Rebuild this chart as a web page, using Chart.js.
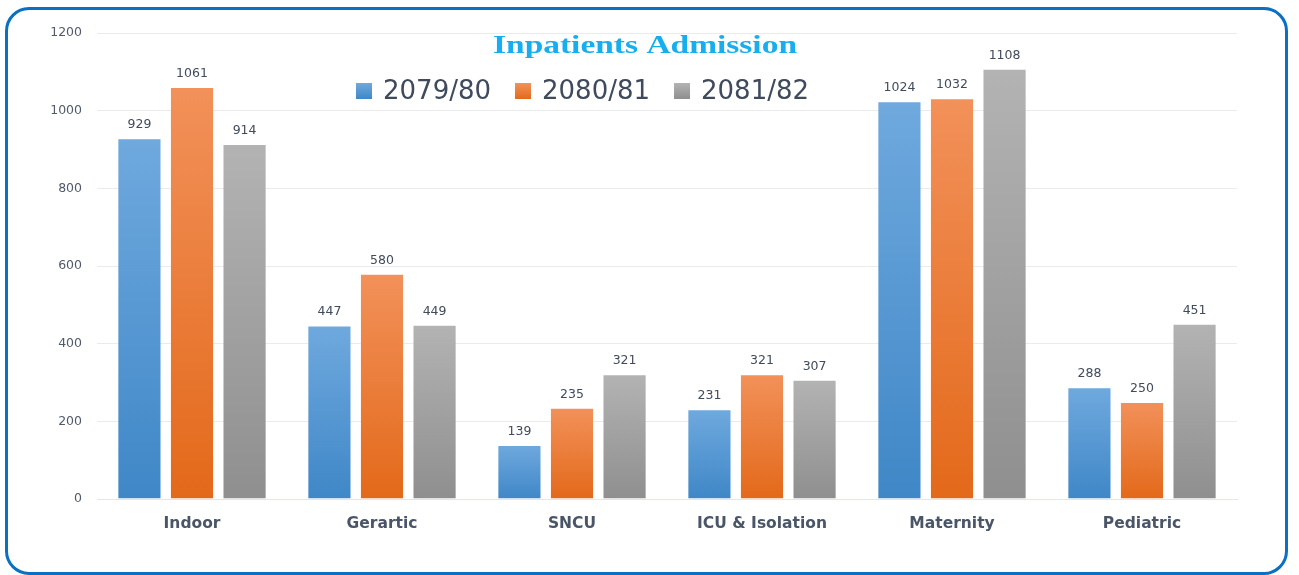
<!DOCTYPE html>
<html>
<head>
<meta charset="utf-8">
<script src="https://cdn.jsdelivr.net/npm/chart.js@4"></script>
<style>
  html, body { margin: 0; padding: 0; background: #ffffff; }
  #wrap { position: relative; width: 1299px; height: 575px; overflow: hidden; }
  #frame { position: absolute; left: 5px; top: 7px; width: 1277px; height: 562px;
           border: 3px solid #0a70c4; border-radius: 24px; }
  #c { position: absolute; left: 0; top: 0; }
</style>
</head>
<body>
<div id="wrap">
  <div id="frame"></div>
  <canvas id="c" width="1299" height="575"></canvas>
</div>
<script>
const categories = ['Indoor', 'Gerartic', 'SNCU', 'ICU & Isolation', 'Maternity', 'Pediatric'];
const seriesLabels = ['2079/80', '2080/81', '2081/82'];
const s2079 = [929, 447, 139, 231, 1024, 288];
const s2080 = [1061, 580, 235, 321, 1032, 250];
const s2081 = [914, 449, 321, 307, 1108, 451];
const yTicks = [0, 200, 400, 600, 800, 1000, 1200];
const titleText = 'Inpatients Admission';

const palette = [
  { top: '#6fa9de', bottom: '#3f87c7', legend: '#4a8fd0' },
  { top: '#f2915a', bottom: '#e3691a', legend: '#ee7a30' },
  { top: '#b3b3b3', bottom: '#8f8f8f', legend: '#a0a0a0' }
];

function barGradient(i) {
  return function (ctx) {
    const chart = ctx.chart;
    const ys = chart.scales && chart.scales.y;
    if (!ys || ctx.type !== 'data') return palette[i].legend;
    const yTop = ys.getPixelForValue(ctx.raw);
    const yBot = ys.getPixelForValue(0);
    if (!isFinite(yTop) || !isFinite(yBot) || yTop === yBot) return palette[i].legend;
    const g = chart.ctx.createLinearGradient(0, yTop, 0, yBot);
    g.addColorStop(0, palette[i].top);
    g.addColorStop(1, palette[i].bottom);
    return g;
  };
}

const overlayPlugin = {
  id: 'overlay',
  afterDatasetsDraw(chart) {
    const ctx = chart.ctx;
    ctx.save();
    ctx.font = '12.5px "DejaVu Sans"';
    ctx.fillStyle = '#404b5c';
    ctx.textAlign = 'center';
    ctx.textBaseline = 'bottom';
    chart.data.datasets.forEach((ds, di) => {
      const meta = chart.getDatasetMeta(di);
      meta.data.forEach((bar, idx) => {
        ctx.fillText(String(ds.data[idx]), bar.x, bar.y - 7);
      });
    });
    ctx.restore();
  },
  afterDraw(chart) {
    const ctx = chart.ctx;
    ctx.save();
    ctx.font = 'bold 26px "Liberation Serif"';
    ctx.fillStyle = '#17aeef';
    ctx.textBaseline = 'middle';
    const tw = ctx.measureText(titleText).width;
    const sx = 304 / tw;
    ctx.translate(645, 46);
    ctx.scale(sx, 1);
    ctx.textAlign = 'center';
    ctx.fillText(titleText, 0, 0);
    ctx.restore();

    ctx.save();
    ctx.font = '26px "DejaVu Sans"';
    ctx.textBaseline = 'middle';
    ctx.textAlign = 'left';
    let x = 356;
    const yMid = 91;
    chart.data.datasets.forEach((ds, di) => {
      const g = ctx.createLinearGradient(0, yMid - 8, 0, yMid + 8);
      g.addColorStop(0, palette[di].top);
      g.addColorStop(1, palette[di].bottom);
      ctx.fillStyle = g;
      ctx.fillRect(x, yMid - 8, 16, 16);
      ctx.fillStyle = '#3f4a5c';
      ctx.fillText(ds.label, x + 27, yMid + 1);
      const w = ctx.measureText(ds.label).width;
      x += 27 + w + 24;
    });
    ctx.restore();
  }
};

const datasets = [s2079, s2080, s2081].map((arr, i) => ({
  label: seriesLabels[i],
  data: arr,
  backgroundColor: barGradient(i),
  borderColor: 'rgba(255,255,255,0.2)',
  borderWidth: 1,
  categoryPercentage: 0.83,
  barPercentage: 0.84
}));

new Chart(document.getElementById('c'), {
  type: 'bar',
  data: { labels: categories, datasets },
  options: {
    responsive: false,
    animation: false,
    devicePixelRatio: 1,
    layout: { padding: { left: 0, right: 62, top: 33, bottom: 0 } },
    plugins: {
      legend: { display: false },
      title: { display: false },
      tooltip: { enabled: false }
    },
    scales: {
      x: {
        grid: { display: false, drawTicks: false },
        border: { display: true, color: '#e4e6ee', width: 1 },
        ticks: {
          padding: 16,
          color: '#4a5568',
          font: { family: '"DejaVu Sans"', size: 15.5, weight: 'bold' }
        },
        afterFit(scale) { scale.height = 76; }
      },
      y: {
        min: 0, max: 1200,
        afterBuildTicks(scale) { scale.ticks = yTicks.map(v => ({ value: v })); },
        grid: { color: '#ebebef', lineWidth: 1, drawTicks: false },
        border: { display: false },
        ticks: {
          padding: 15,
          color: '#505a6a',
          font: { family: '"DejaVu Sans"', size: 12.5 },
          callback: (v) => String(v)
        },
        afterFit(scale) { scale.width = 97; }
      }
    }
  },
  plugins: [overlayPlugin]
});
</script>
</body>
</html>
